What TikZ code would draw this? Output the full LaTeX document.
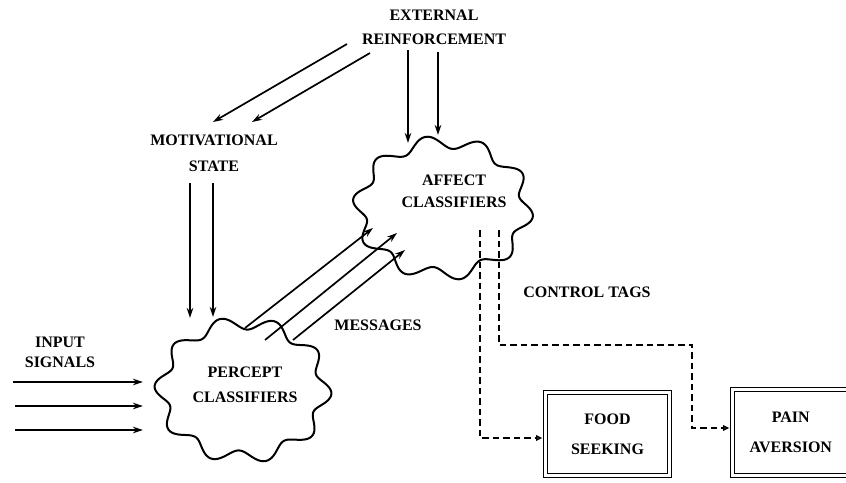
\documentclass[tikz,border=0pt]{standalone}
\usepackage{fontspec}
\setmainfont{Liberation Serif}
\usetikzlibrary{arrows.meta,calc}
\begin{document}
\begin{tikzpicture}[x=1pt,y=-1pt,
  lbl/.style={font=\fontsize{16}{#1}\selectfont\bfseries, align=center, inner sep=0pt},
  lbl/.default=24,
  arr/.style={line width=1.7pt, -{Stealth[length=10pt,width=6.5pt]}},
  dsh/.style={line width=1.8pt, dash pattern=on 6.5pt off 4pt, -{Triangle[open,length=6pt,width=5.5pt]}},
  cloudline/.style={line width=2pt},
  boxd/.style={draw, line width=1.7pt, double, double distance=2.2pt}
]
\useasboundingbox (0,0) rectangle (846,482);
\clip (0,0) rectangle (846,482);

% clouds
\draw[cloudline] plot[domain=0:360, samples=240, variable=\t]
  ({443+(84+6.5*sin(10*\t+20))*cos(\t)}, {208+(66+6.5*sin(10*\t+20))*sin(\t)}) -- cycle;
\draw[cloudline] plot[domain=0:360, samples=240, variable=\t]
  ({243+(82+6.5*sin(10*\t+60))*cos(\t)}, {390+(67+6.5*sin(10*\t+60))*sin(\t)}) -- cycle;

% labels
\node[lbl=24] (ext) at (434,27) {EXTERNAL\\REINFORCEMENT};
\node[lbl=26] (motiv) at (214,153) {MOTIVATIONAL\\STATE};
\node[lbl=22] (affect) at (454,191) {AFFECT\\CLASSIFIERS};
\node[lbl=25] (percept) at (245,385) {PERCEPT\\CLASSIFIERS};
\node[lbl=20] (input) at (60,352) {INPUT\\SIGNALS};
\node[lbl] (msgs) at (378,325) {MESSAGES};
\node[lbl] (ctrl) at (587,292) {CONTROL TAGS};
\node[boxd, lbl=30, minimum width=123.9pt, minimum height=82.9pt] (food) at (607.5,434) {FOOD\\SEEKING};
\node[boxd, lbl=30, minimum width=116.5pt, minimum height=85.9pt] (pain) at (790.8,432.5) {PAIN\\AVERSION};

% coordinates
\coordinate (e1s) at (408,50);  \coordinate (e1e) at (408,143);
\coordinate (e2s) at (438,52);  \coordinate (e2e) at (438,135);
\coordinate (d1s) at (347,44);  \coordinate (d1e) at (213,122);
\coordinate (d2s) at (370,53);  \coordinate (d2e) at (252,122);
\coordinate (m1s) at (190,183); \coordinate (m1e) at (190,318);
\coordinate (m2s) at (213,183); \coordinate (m2e) at (213,317);
\coordinate (g1s) at (245,328); \coordinate (g1e) at (373,228);
\coordinate (g2s) at (265,340); \coordinate (g2e) at (397,233);
\coordinate (g3s) at (293,340); \coordinate (g3e) at (405,250);
\coordinate (i1s) at (13,382);  \coordinate (i1e) at (143,382);
\coordinate (i2s) at (15,406);  \coordinate (i2e) at (143,406);
\coordinate (i3s) at (15,430);  \coordinate (i3e) at (143,430);
\coordinate (a1) at (480,230);  \coordinate (f1) at (480,438);
\coordinate (a2) at (499,230);  \coordinate (c1) at (499,345);
\coordinate (c2) at (692,345);  \coordinate (p1) at (692,428);

% solid arrows
\draw[arr] (e1s) -- (e1e);
\draw[arr] (e2s) -- (e2e);
\draw[arr] (d1s) -- (d1e);
\draw[arr] (d2s) -- (d2e);
\draw[arr] (m1s) -- (m1e);
\draw[arr] (m2s) -- (m2e);
\draw[arr] (g1s) -- (g1e);
\draw[arr] (g2s) -- (g2e);
\draw[arr] (g3s) -- (g3e);
\draw[arr] (i1s) -- (i1e);
\draw[arr] (i2s) -- (i2e);
\draw[arr] (i3s) -- (i3e);

% dashed control tags
\draw[dsh, shorten >=2.5pt] (a1) -- (f1) -- (f1 -| food.west);
\draw[dsh, shorten >=2.5pt] (a2) -- (c1) -- (c2) -- (p1) -- (p1 -| pain.west);
\end{tikzpicture}
\end{document}
